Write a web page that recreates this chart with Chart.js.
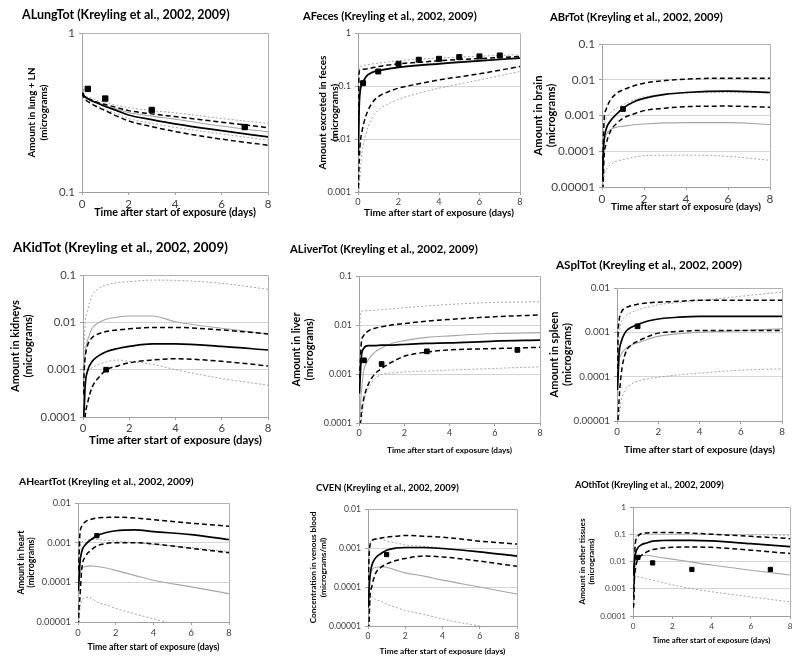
<!DOCTYPE html>
<html>
<head>
<meta charset="utf-8">
<script src="https://cdn.jsdelivr.net/npm/chart.js@4.4.1/dist/chart.umd.min.js"></script>
<style>
  body { margin: 0; background: #fff; }
  #wrap { position: relative; width: 800px; height: 663px; }
  #wrap canvas { position: absolute; left: 0; top: 0; }
</style>
</head>
<body>
<div id="wrap"></div>
<script>
// time points (days) shared by every model curve
const days = [0.02, 0.05, 0.1, 0.2, 0.4, 0.7, 1, 1.5, 2, 3, 4, 6, 8];
const xTicks = [0, 2, 4, 6, 8];

// ALungTot
const lungTicks = [0.1, 1];
const lungSolid  = [0.42, 0.41, 0.40, 0.39, 0.375, 0.36, 0.345, 0.325, 0.305, 0.285, 0.268, 0.243, 0.222];
const lungDashHi = [0.42, 0.41, 0.40, 0.39, 0.38, 0.365, 0.355, 0.34, 0.325, 0.31, 0.298, 0.275, 0.254];
const lungDashLo = [0.42, 0.40, 0.39, 0.375, 0.36, 0.34, 0.325, 0.30, 0.28, 0.258, 0.24, 0.215, 0.197];
const lungGray   = [0.46, 0.43, 0.40, 0.39, 0.378, 0.364, 0.35, 0.333, 0.316, 0.30, 0.287, 0.26, 0.239];
const lungDotHi  = [0.50, 0.45, 0.41, 0.40, 0.39, 0.375, 0.365, 0.35, 0.34, 0.325, 0.315, 0.29, 0.27];
const lungDotLo  = [0.48, 0.42, 0.39, 0.375, 0.36, 0.345, 0.33, 0.31, 0.29, 0.27, 0.255, 0.232, 0.212];
const lungObsDays = [0.25, 1, 3, 7];
const lungObs     = [0.445, 0.387, 0.328, 0.256];

// AFeces
const fecesTicks = [0.001, 0.01, 0.1, 1];
const fecesSolid  = [0.005, 0.03, 0.075, 0.105, 0.15, 0.18, 0.193, 0.21, 0.224, 0.245, 0.262, 0.299, 0.336];
const fecesDashHi = [0.02, 0.17, 0.20, 0.205, 0.21, 0.22, 0.233, 0.248, 0.262, 0.28, 0.30, 0.33, 0.36];
const fecesDashLo = [0.0012, 0.003, 0.0075, 0.014, 0.028, 0.048, 0.063, 0.078, 0.091, 0.11, 0.13, 0.17, 0.233];
const fecesGray   = [0.006, 0.035, 0.08, 0.11, 0.155, 0.185, 0.198, 0.215, 0.23, 0.252, 0.27, 0.305, 0.34];
const fecesDotHi  = [0.05, 0.2, 0.233, 0.24, 0.25, 0.26, 0.27, 0.285, 0.30, 0.32, 0.336, 0.365, 0.389];
const fecesDotLo  = [0.0004, 0.001, 0.002, 0.0055, 0.013, 0.025, 0.035, 0.046, 0.056, 0.073, 0.091, 0.13, 0.188];
const fecesObsDays = [0.25, 1, 2, 3, 4, 5, 6, 7];
const fecesObs     = [0.113, 0.188, 0.262, 0.313, 0.326, 0.351, 0.362, 0.377];

// ABrTot
const brainTicks = [0.00001, 0.0001, 0.001, 0.01, 0.1];
const brainSolid  = [0.000015, 0.000056, 0.0002, 0.00042, 0.0007, 0.0011, 0.0016, 0.0024, 0.003, 0.0039, 0.0044, 0.0048, 0.0044];
const brainDashHi = [0.00002, 0.00011, 0.00075, 0.0015, 0.0027, 0.0042, 0.0052, 0.0067, 0.008, 0.0095, 0.0104, 0.0111, 0.0111];
const brainDashLo = [0.000003, 0.00001, 0.00007, 0.00016, 0.00036, 0.0006, 0.00084, 0.0011, 0.00137, 0.0016, 0.00177, 0.00183, 0.0017];
const brainGray   = [0.00005, 0.00012, 0.0002, 0.00029, 0.0004, 0.00047, 0.0005, 0.00055, 0.00058, 0.00062, 0.00063, 0.00063, 0.00056];
const brainDotHi  = [0.0001, 0.0003, 0.0005, 0.0008, 0.0012, 0.0016, 0.002, 0.0027, 0.0033, 0.0039, 0.0043, 0.0045, 0.0043];
const brainDotLo  = [0.000004, 0.00001, 0.000019, 0.00003, 0.000042, 0.000053, 0.000058, 0.000068, 0.000075, 0.000077, 0.000078, 0.000072, 0.000056];
const brainObsDays = [1];
const brainObs     = [0.00152];

// AKidTot
const kidTicks = [0.0001, 0.001, 0.01, 0.1];
const kidSolid  = [0.00008, 0.00015, 0.0005, 0.00095, 0.0015, 0.002, 0.0024, 0.0028, 0.0031, 0.0035, 0.0035, 0.0031, 0.0026];
const kidDashHi = [0.0003, 0.0009, 0.0019, 0.0033, 0.0048, 0.0058, 0.0064, 0.0069, 0.0073, 0.0078, 0.0078, 0.0069, 0.0057];
const kidDashLo = [0.00002, 0.00005, 0.00011, 0.0002, 0.00043, 0.0007, 0.00098, 0.0012, 0.0014, 0.0016, 0.0017, 0.0015, 0.0012];
const kidGray   = [0.0005, 0.0012, 0.0025, 0.0042, 0.0075, 0.01, 0.0116, 0.0129, 0.0136, 0.0136, 0.0103, 0.0075, 0.0057];
const kidDotHi  = [0.0005, 0.003, 0.01, 0.018, 0.037, 0.053, 0.0615, 0.069, 0.0723, 0.078, 0.077, 0.0667, 0.0498];
const kidDotLo  = [0.0002, 0.0004, 0.0006, 0.0009, 0.0011, 0.0013, 0.00146, 0.0016, 0.0015, 0.0013, 0.001, 0.00065, 0.00047];
const kidObsDays = [1];
const kidObs     = [0.001];

// ALiverTot
const liverTicks = [0.0001, 0.001, 0.01, 0.1];
const liverSolid  = [0.0004, 0.0008, 0.0022, 0.0033, 0.0038, 0.0038, 0.0039, 0.0039, 0.004, 0.0042, 0.0043, 0.0047, 0.0049];
const liverDashHi = [0.0008, 0.0015, 0.0042, 0.006, 0.0075, 0.0086, 0.0092, 0.0101, 0.0107, 0.012, 0.013, 0.0148, 0.016];
const liverDashLo = [0.00002, 0.00007, 0.00015, 0.0003, 0.0006, 0.001, 0.0013, 0.0018, 0.0023, 0.0028, 0.0031, 0.0033, 0.0035];
const liverGray   = [0.0001, 0.00018, 0.0004, 0.0011, 0.0019, 0.0028, 0.0034, 0.0043, 0.0048, 0.0056, 0.006, 0.0067, 0.007];
const liverDotHi  = [0.002, 0.015, 0.0187, 0.0193, 0.0197, 0.02, 0.0205, 0.0215, 0.0225, 0.0245, 0.0263, 0.0289, 0.0298];
const liverDotLo  = [0.00003, 0.00006, 0.0001, 0.00025, 0.0005, 0.0008, 0.00098, 0.00105, 0.0011, 0.00115, 0.0012, 0.0013, 0.0014];
const liverObsDays = [0.22, 1, 3, 7];
const liverObs     = [0.0019, 0.0016, 0.0029, 0.0031];

// ASplTot
const splTicks = [0.00001, 0.0001, 0.001, 0.01];
const splSolid  = [0.00005, 0.0001, 0.00033, 0.0006, 0.001, 0.0013, 0.0015, 0.0018, 0.002, 0.0022, 0.0023, 0.0023, 0.0023];
const splDashHi = [0.0001, 0.0008, 0.0018, 0.0028, 0.0035, 0.004, 0.0043, 0.0046, 0.0048, 0.005, 0.0053, 0.0053, 0.0053];
const splDashLo = [0.000003, 0.00001, 0.00003, 0.00011, 0.00033, 0.00052, 0.00063, 0.0008, 0.00096, 0.00105, 0.0011, 0.0011, 0.0011];
const splGray   = [0.00003, 0.0001, 0.00022, 0.00032, 0.00042, 0.00052, 0.00058, 0.0007, 0.00081, 0.00093, 0.001, 0.0011, 0.0012];
const splDotHi  = [0.00005, 0.0003, 0.0008, 0.0016, 0.0023, 0.0028, 0.0032, 0.0037, 0.0042, 0.0047, 0.0052, 0.0065, 0.0081];
const splDotLo  = [0.000002, 0.000006, 0.000012, 0.000028, 0.00005, 0.000068, 0.000079, 0.00009, 0.000097, 0.00011, 0.00012, 0.00014, 0.00015];
const splObsDays = [1];
const splObs     = [0.00137];

// AHeartTot
const heartTicks = [0.00001, 0.0001, 0.001, 0.01];
const heartSolid  = [0.00006, 0.00011, 0.0003, 0.0006, 0.0009, 0.0012, 0.0015, 0.0018, 0.002, 0.0021, 0.0019, 0.0016, 0.0012];
const heartDashHi = [0.0002, 0.0004, 0.0016, 0.0026, 0.0034, 0.0039, 0.0042, 0.0043, 0.0044, 0.0042, 0.0038, 0.0031, 0.0026];
const heartDashLo = [0.000005, 0.00002, 0.00004, 0.00022, 0.00045, 0.00065, 0.00083, 0.00095, 0.001, 0.001, 0.00093, 0.00072, 0.00056];
const heartGray   = [0.00005, 0.0001, 0.00016, 0.00022, 0.00025, 0.00026, 0.00025, 0.00023, 0.0002, 0.00015, 0.000113, 0.000077, 0.000052];
const heartDotHi  = [0.0001, 0.0003, 0.0007, 0.001, 0.0012, 0.0012, 0.0012, 0.00115, 0.0011, 0.001, 0.0009, 0.00075, 0.0006];
const heartDotLo  = [0.000003, 0.00001, 0.00002, 0.000033, 0.000042, 0.00004, 0.000032, 0.000027, 0.000022, 0.000016, 0.000012, 0.000007, 0.0000045];
const heartObsDays = [1];
const heartObs     = [0.0015];

// CVEN
const venTicks = [0.00001, 0.0001, 0.001, 0.01];
const venSolid  = [0.00003, 0.00007, 0.00018, 0.00035, 0.00055, 0.00072, 0.00088, 0.001, 0.00103, 0.00103, 0.00097, 0.0008, 0.00062];
const venDashHi = [0.00015, 0.0005, 0.0011, 0.0015, 0.0017, 0.0018, 0.0019, 0.002, 0.0021, 0.002, 0.0019, 0.0015, 0.00126];
const venDashLo = [0.000005, 0.00001, 0.00005, 0.0001, 0.00022, 0.00032, 0.00039, 0.00048, 0.00054, 0.00062, 0.00059, 0.00046, 0.00034];
const venGray   = [0.00004, 0.0001, 0.00015, 0.00026, 0.00032, 0.00033, 0.00032, 0.00027, 0.00023, 0.00019, 0.00015, 0.0001, 0.000066];
const venDotHi  = [0.0001, 0.0004, 0.0012, 0.0016, 0.0017, 0.0017, 0.0015, 0.00135, 0.0012, 0.0011, 0.001, 0.0008, 0.00065];
const venDotLo  = [0.000005, 0.00001, 0.00003, 0.000056, 0.000048, 0.000043, 0.000036, 0.00003, 0.000025, 0.00002, 0.000015, 0.00001, 0.000007];
const venObsDays = [1];
const venObs     = [0.00068];

// AOthTot
const othTicks = [0.0001, 0.001, 0.01, 0.1, 1];
const othSolid  = [0.003, 0.006, 0.015, 0.028, 0.04, 0.048, 0.056, 0.059, 0.06, 0.06, 0.057, 0.045, 0.035];
const othDashHi = [0.0002, 0.0004, 0.03, 0.075, 0.104, 0.112, 0.115, 0.115, 0.115, 0.11, 0.1, 0.084, 0.069];
const othDashLo = [0.0005, 0.0015, 0.004, 0.01, 0.016, 0.0225, 0.0275, 0.031, 0.033, 0.034, 0.033, 0.026, 0.0196];
const othGray   = [0.003, 0.005, 0.011, 0.0145, 0.0165, 0.017, 0.0156, 0.0138, 0.0122, 0.0095, 0.0074, 0.0048, 0.0032];
const othDotHi  = [0.001, 0.01, 0.06, 0.09, 0.097, 0.1, 0.1, 0.1, 0.1, 0.1, 0.099, 0.096, 0.092];
const othDotLo  = [0.0006, 0.0012, 0.0025, 0.0028, 0.0026, 0.0023, 0.0021, 0.0017, 0.0014, 0.001, 0.00078, 0.0005, 0.00033];
const othObsDays = [0.25, 1, 3, 7];
const othObs     = [0.0141, 0.0089, 0.0051, 0.0051];

const X_TITLE = 'Time after start of exposure (days)';
const FONT = 'Lato, "Open Sans", sans-serif';

// page layout: plot box, title spot, text widths and tick size
const panels = [
  { title: 'ALungTot (Kreyling et al., 2002, 2009)', tx: 22, ty: 15, tw: 208,
    yTitle: ['Amount in lung + LN', '(micrograms)'], yx: 38, yw: 90, xy: 213, xw: 162, fs: 11.5,
    box: [82, 33, 268, 192], ticks: lungTicks, ms: 3.8,
    lines: [lungSolid, lungDashHi, lungDashLo, lungGray, lungDotHi, lungDotLo], obs: [lungObsDays, lungObs] },
  { title: 'AFeces (Kreyling et al., 2002, 2009)', tx: 303, ty: 16, tw: 174,
    yTitle: ['Amount excreted in feces', '(micrograms)'], yx: 329, yw: 114, xy: 213, xw: 150, fs: 9.2,
    box: [358, 33, 520, 192], ticks: fecesTicks, ms: 3.5,
    lines: [fecesSolid, fecesDashHi, fecesDashLo, fecesGray, fecesDotHi, fecesDotLo], obs: [fecesObsDays, fecesObs] },
  { title: 'ABrTot (Kreyling et al., 2002, 2009)', tx: 550, ty: 17, tw: 173,
    yTitle: ['Amount in brain', '(micrograms)'], yx: 545, yw: 80, xy: 207, xw: 150, fs: 11.8,
    box: [602, 44, 770, 187], ticks: brainTicks, ms: 3.3,
    lines: [brainSolid, brainDashHi, brainDashLo, brainGray, brainDotHi, brainDotLo], obs: [brainObsDays, brainObs] },
  { title: 'AKidTot (Kreyling et al., 2002, 2009)', tx: 13, ty: 248, tw: 215,
    yTitle: ['Amount in kidneys', '(micrograms)'], yx: 22, yw: 92, xy: 440, xw: 173, fs: 11.3,
    box: [83, 275, 268, 417], ticks: kidTicks, ms: 3.3,
    lines: [kidSolid, kidDashHi, kidDashLo, kidGray, kidDotHi, kidDotLo], obs: [kidObsDays, kidObs] },
  { title: 'ALiverTot (Kreyling et al., 2002, 2009)', tx: 290, ty: 249, tw: 188,
    yTitle: ['Amount in liver', '(micrograms)'], yx: 303, yw: 74, xy: 450, xw: 125, fs: 9,
    box: [359, 276, 540, 423], ticks: liverTicks, ms: 3.3,
    lines: [liverSolid, liverDashHi, liverDashLo, liverGray, liverDotHi, liverDotLo], obs: [liverObsDays, liverObs] },
  { title: 'ASplTot (Kreyling et al., 2002, 2009)', tx: 556, ty: 265, tw: 186,
    yTitle: ['Amount in spleen', '(micrograms)'], yx: 561, yw: 86, xy: 450, xw: 151, fs: 9.8,
    box: [617, 288, 782, 421], ticks: splTicks, ms: 3.3,
    lines: [splSolid, splDashHi, splDashLo, splGray, splDotHi, splDotLo], obs: [splObsDays, splObs] },
  { title: 'AHeartTot (Kreyling et al., 2002, 2009)', tx: 19, ty: 482, tw: 175,
    yTitle: ['Amount in heart', '(micrograms)'], yx: 26, yw: 64, xy: 647, xw: 132, fs: 9.3,
    box: [78, 503, 229, 622], ticks: heartTicks, ms: 3,
    lines: [heartSolid, heartDashHi, heartDashLo, heartGray, heartDotHi, heartDotLo], obs: [heartObsDays, heartObs] },
  { title: 'CVEN (Kreyling et al., 2002, 2009)', tx: 316, ty: 488, tw: 143,
    yTitle: ['Concentration in venous blood', '(micrograms/ml)'], yx: 318, yw: 112, xy: 651, xw: 126, fs: 8.6,
    box: [368, 509, 517, 626], ticks: venTicks, ms: 3,
    lines: [venSolid, venDashHi, venDashLo, venGray, venDotHi, venDotLo], obs: [venObsDays, venObs] },
  { title: 'AOthTot (Kreyling et al., 2002, 2009)', tx: 575, ty: 485, tw: 149,
    yTitle: ['Amount in other tissues', '(micrograms)'], yx: 587, yw: 86, xy: 640, xw: 118, fs: 8.2,
    box: [633, 507, 790, 616], ticks: othTicks, ms: 3,
    lines: [othSolid, othDashHi, othDashLo, othGray, othDotHi, othDotLo], obs: [othObsDays, othObs] }
];

// line looks in the same order as panel.lines
const looks = [
  { borderColor: '#000', borderWidth: 1.7 },
  { borderColor: '#000', borderWidth: 1.5, borderDash: [5, 3] },
  { borderColor: '#000', borderWidth: 1.5, borderDash: [5, 3] },
  { borderColor: '#a6a6a6', borderWidth: 1.1 },
  { borderColor: '#a6a6a6', borderWidth: 1, borderDash: [2, 2] },
  { borderColor: '#a6a6a6', borderWidth: 1, borderDash: [2, 2] }
];

const measure = document.createElement('canvas').getContext('2d');
function fitSize(text, width, weight) {
  measure.font = weight + ' 100px ' + FONT;
  return 100 * width / measure.measureText(text).width;
}

// chart title + right/top edge of the plot box
const panelDecor = {
  id: 'panelDecor',
  afterDraw(chart, args, opts) {
    const ctx = chart.ctx;
    const a = chart.chartArea;
    ctx.save();
    ctx.strokeStyle = '#b0b0b0';
    ctx.lineWidth = 1;
    ctx.beginPath();
    ctx.moveTo(a.left, Math.round(a.top) + 0.5);
    ctx.lineTo(Math.round(a.right) + 0.5, Math.round(a.top) + 0.5);
    ctx.lineTo(Math.round(a.right) + 0.5, a.bottom);
    ctx.stroke();
    ctx.font = 'bold ' + opts.size + 'px ' + FONT;
    ctx.fillStyle = '#000';
    ctx.textAlign = 'left';
    ctx.textBaseline = 'middle';
    ctx.fillText(opts.text, opts.x, opts.y);
    ctx.restore();
  }
};

const wrap = document.getElementById('wrap');

function buildPanel(p) {
  const canvas = document.createElement('canvas');
  canvas.width = 800;
  canvas.height = 663;
  wrap.appendChild(canvas);

  const [left, top, right, bottom] = p.box;
  const xSize = fitSize(X_TITLE, p.xw, 'bold');
  const ySize = fitSize(p.yTitle[0], p.yw, 'bold');
  const yAxisW = left - (p.yx - ySize * 1.2);
  const xAxisH = p.xy + xSize * 0.6 - bottom;

  const datasets = [{
    data: p.obs[0].map((d, i) => ({ x: d, y: p.obs[1][i] })),
    showLine: false, pointStyle: 'rect', pointRadius: p.ms,
    backgroundColor: '#000', borderColor: '#000'
  }];
  p.lines.forEach((vals, i) => {
    datasets.push(Object.assign({
      data: days.map((d, j) => ({ x: d, y: vals[j] })),
      pointRadius: 0, fill: false, cubicInterpolationMode: 'monotone'
    }, looks[i]));
  });

  new Chart(canvas, {
    type: 'line',
    data: { datasets: datasets },
    options: {
      responsive: false,
      animation: false,
      events: [],
      layout: { padding: { left: left - yAxisW, top: top, right: 800 - right, bottom: 663 - bottom - xAxisH } },
      plugins: {
        legend: { display: false },
        tooltip: { enabled: false },
        panelDecor: { text: p.title, x: p.tx, y: p.ty, size: fitSize(p.title, p.tw, 'bold') }
      },
      scales: {
        x: {
          type: 'linear', min: 0, max: 8,
          afterBuildTicks: s => { s.ticks = xTicks.map(v => ({ value: v })); },
          afterFit: s => { s.height = xAxisH; },
          grid: { drawOnChartArea: false, tickLength: 3, color: '#a0a0a0' },
          border: { color: '#a0a0a0' },
          ticks: { padding: 2, color: '#404040', font: { family: FONT, size: p.fs } },
          title: { display: true, text: X_TITLE, padding: 0, color: '#000',
                   font: { family: FONT, size: xSize, weight: 'bold', lineHeight: 1.2 } }
        },
        y: {
          type: 'logarithmic', min: p.ticks[0], max: p.ticks[p.ticks.length - 1],
          afterBuildTicks: s => { s.ticks = p.ticks.map(v => ({ value: v })); },
          afterFit: s => { s.width = yAxisW; },
          grid: { color: '#d4d4d4', tickLength: 3, tickColor: '#a0a0a0' },
          border: { color: '#a0a0a0' },
          ticks: { padding: 4, color: '#404040', font: { family: FONT, size: p.fs },
                   callback: v => String(v) },
          title: { display: true, text: p.yTitle, padding: 0, color: '#000',
                   font: { family: FONT, size: ySize, weight: 'bold', lineHeight: 1.2 } }
        }
      }
    },
    plugins: [panelDecor]
  });
}

panels.forEach(buildPanel);
</script>
</body>
</html>
